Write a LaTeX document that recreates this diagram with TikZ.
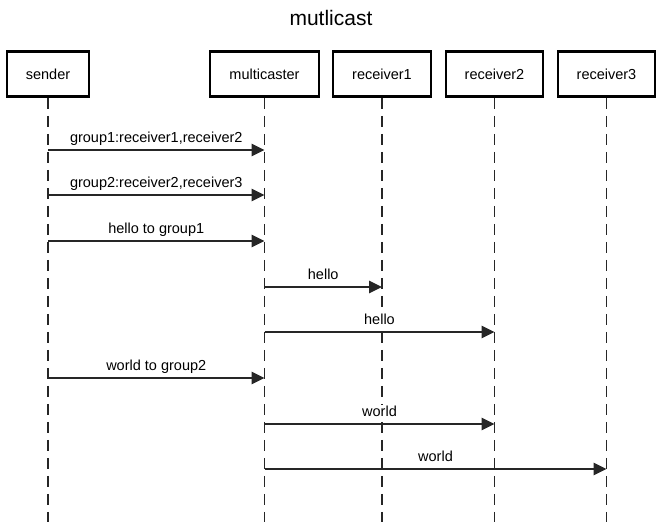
\documentclass[tikz,border=0pt]{standalone}
\usepackage{fontspec}
\setmainfont{Liberation Sans}
\usetikzlibrary{arrows.meta}
\begin{document}
\begin{tikzpicture}[x=1pt,y=-1pt,
  actor/.style={draw=black,line width=2.6pt,fill=white,minimum height=45pt,inner sep=0pt,font=\fontsize{14.5}{17}\selectfont},
  lifeline/.style={line width=1.5pt,dash pattern=on 11pt off 7pt,draw=black!85},
  msg/.style={line width=1.4pt,-{Triangle[length=13pt,width=12.5pt]},draw=black!85},
  lbl/.style={font=\fontsize{14.5}{17}\selectfont,inner sep=1pt,fill=white,anchor=base}]
\useasboundingbox (0,0) rectangle (662,527);
\node[font=\fontsize{21}{25}\selectfont,anchor=base,inner sep=0pt] (title) at (331,26) {mutlicast};
\node[actor,minimum width=82pt] (sender) at (48,74) {sender};
\node[actor,minimum width=109pt] (mc) at (264.5,74) {multicaster};
\node[actor,minimum width=98pt] (r1) at (382,74) {receiver1};
\node[actor,minimum width=97pt] (r2) at (494.5,74) {receiver2};
\node[actor,minimum width=97pt] (r3) at (606.5,74) {receiver3};
\coordinate (bot) at (0,522);
\foreach \n in {sender,mc,r1,r2,r3}{
  \draw[lifeline] (\n.south) -- (\n |- bot);
}
\coordinate (y1) at (0,150);
\coordinate (y2) at (0,195);
\coordinate (y3) at (0,241);
\coordinate (y4) at (0,287);
\coordinate (y5) at (0,332);
\coordinate (y6) at (0,378);
\coordinate (y7) at (0,424);
\coordinate (y8) at (0,469);
\draw[msg] (sender |- y1) -- node[lbl,yshift=7.5pt] (l1) {group1:receiver1,receiver2} (mc |- y1);
\draw[msg] (sender |- y2) -- node[lbl,yshift=7.5pt] (l2) {group2:receiver2,receiver3} (mc |- y2);
\draw[msg] (sender |- y3) -- node[lbl,yshift=7.5pt] (l3) {hello to group1} (mc |- y3);
\draw[msg] (mc |- y4) -- node[lbl,yshift=7.5pt] (l4) {hello} (r1 |- y4);
\draw[msg] (mc |- y5) -- node[lbl,yshift=7.5pt] (l5) {hello} (r2 |- y5);
\draw[msg] (sender |- y6) -- node[lbl,yshift=7.5pt] (l6) {world to group2} (mc |- y6);
\draw[msg] (mc |- y7) -- node[lbl,yshift=7.5pt] (l7) {world} (r2 |- y7);
\draw[msg] (mc |- y8) -- node[lbl,yshift=7.5pt] (l8) {world} (r3 |- y8);
\end{tikzpicture}
\end{document}
